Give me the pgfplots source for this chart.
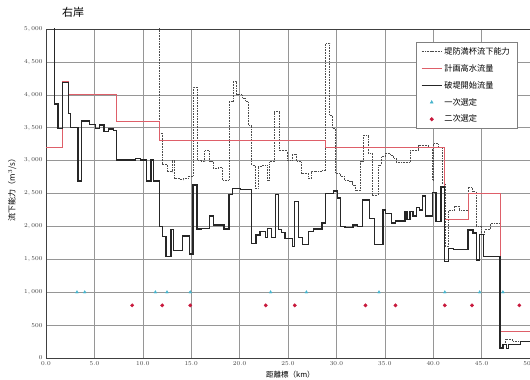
\documentclass[border=0pt]{standalone}
\usepackage{fontspec}
\usepackage{pgfplots}
\pgfplotsset{compat=1.18}
\usetikzlibrary{calc}
\newfontfamily\cjk{Noto Sans CJK JP}
\definecolor{redline}{RGB}{222,95,105}
\definecolor{tri}{RGB}{70,180,205}
\definecolor{dotc}{RGB}{200,25,60}
\definecolor{gridc}{RGB}{150,150,150}
\begin{document}
\begin{tikzpicture}
\begin{axis}[
 scale only axis, width=484pt, height=329pt,
 xmin=0, xmax=50, ymin=0, ymax=5000,
 xtick={0,5,...,50}, ytick={0,500,...,5000},
 grid=major, major grid style={gridc, line width=0.5pt},
 axis line style={black!75, line width=0.8pt},
 tick style={draw=none},
 ticklabel style={font=\fontsize{6}{7}\selectfont, text=black!75},
 yticklabel style={/pgf/number format/1000 sep={,}},
 xticklabel style={/pgf/number format/.cd, fixed, fixed zerofill, precision=1},
 title={\cjk\fontsize{11}{12}\selectfont 右岸},
 title style={at={(axis description cs:0.056,1.005)}, anchor=south},
 ylabel={\cjk\fontsize{8}{9}\selectfont 流下能力（m$^3$/s）},
 ylabel style={at={(axis description cs:-0.070,0.517)}, anchor=center},
 xlabel={\cjk\fontsize{7.5}{8}\selectfont 距離標（km）},
 xlabel style={at={(axis description cs:0.505,-0.038)}, anchor=north, inner sep=0pt},
 legend style={at={(rel axis cs:0.764,0.96)}, anchor=north west,
   font=\cjk\fontsize{8.2}{9}\selectfont, draw=gray, line width=0.6pt,
   row sep=4.5pt, inner xsep=5pt, inner ysep=3pt, fill=white},
 legend cell align=left,
 legend image code/.code={\draw[mark repeat=2,mark phase=2,#1] plot coordinates {(0cm,0cm) (0.35cm,0cm) (0.7cm,0cm)};},
]
\addplot[const plot, black!70, densely dotted, line width=0.6pt] coordinates {
(0,5400) (11.75,3420) (12.0,2950) (12.5,2830) (13.0,3010) (13.3,2730) (13.8,2710) (14.2,2730) (14.7,2760) (15.2,4120) (15.6,3010) (16.0,2990) (16.4,3150) (16.9,2990) (17.3,2880) (17.8,2900) (18.2,2705) (18.9,3900) (19.3,4200) (19.7,4000) (20.3,3950) (20.6,3900) (20.9,3540) (21.25,2935) (21.6,2580) (21.9,2920) (22.3,2935) (22.9,2705) (23.1,2985) (23.6,3745) (24.1,3150) (24.9,3010) (25.4,3100) (25.9,2985) (26.4,2805) (27.1,2730) (27.4,2830) (27.9,2840) (28.5,2850) (28.9,4780) (29.3,3690) (29.6,3490) (29.9,2805) (30.4,2760) (30.8,2705) (31.3,2680) (31.6,2630) (32.0,2550) (32.5,2985) (32.8,3390) (33.3,3110) (33.7,2480) (34.3,2935) (34.6,3060) (35.0,3110) (35.6,3080) (35.9,3040) (36.2,2970) (37.6,3150) (38.5,3240) (39.5,3200) (39.9,2700) (40.0,3260) (40.5,3200) (40.9,2650) (41.2,1700) (41.6,2250) (42.2,2310) (42.7,2240) (43.6,2600) (44.0,2530) (44.4,2000) (45.0,1880) (45.3,1950) (45.9,2050) (46.9,200) (47.4,290) (48.2,260) (49.0,250) (50,250)
};
\addlegendentry{堤防満杯流下能力}
\addplot[const plot, redline, line width=0.8pt] coordinates {
(0,3200) (1.72,4200) (2.3,4000) (7.3,3600) (11.7,3300) (28.9,3200) (41.2,2100) (43.6,2500) (46.9,400) (50,400)
};
\addlegendentry{計画高水流量}
\addplot[const plot, black!85, line width=1.3pt] coordinates {
(0.6,5400) (0.9,3860) (1.24,3490) (1.72,4190) (2.3,3720) (2.5,3500) (3.3,2690) (3.7,3600) (4.5,3550) (5.1,3490) (5.5,3540) (6.0,3440) (6.44,3480) (7.0,3460) (7.27,3010) (9.26,3030) (9.78,3010) (10.4,2690) (10.85,3010) (11.1,2690) (11.7,2000) (12.05,1845) (12.4,1540) (12.9,1955) (13.2,1630) (14.1,1855) (14.8,1580) (15.2,2630) (15.6,1960) (16.0,1970) (16.9,2160) (17.3,2020) (18.4,1960) (18.9,2490) (19.3,2580) (20.1,2560) (21.25,1745) (21.7,1870) (22.1,1920) (22.7,1830) (22.9,1970) (23.3,1830) (23.7,2480) (24.0,1950) (24.3,1910) (24.7,1820) (25.5,1690) (25.7,2375) (26.1,1830) (26.5,1720) (27.1,1920) (27.6,1960) (28.5,2050) (28.9,2500) (29.7,2540) (30.1,2430) (30.4,2000) (30.9,1980) (31.7,2020) (32.2,2000) (32.7,2400) (33.4,2120) (33.9,1720) (34.8,2250) (35.1,2200) (35.7,2050) (36.1,2080) (37.1,2225) (37.3,2100) (37.6,2225) (37.9,2160) (38.3,2290) (38.6,2250) (38.9,2460) (39.2,2160) (39.9,2510) (40.3,2070) (40.8,2600) (41.2,1465) (41.6,1665) (42.1,1650) (43.6,1945) (44.1,1900) (44.5,1490) (44.8,1880) (45.2,1540) (46.9,150) (47.2,210) (47.6,140) (47.8,200) (49.0,250) (50,250)
};
\addlegendentry{破堤開始流量}
\addplot[only marks, mark=triangle*, mark size=1.6pt, color=tri] coordinates {
(3.2,1000) (4.0,1000) (11.3,1000) (12.5,1000) (14.9,1000) (23.2,1000) (26.9,1000) (34.4,1000) (41.2,1000) (44.8,1000) (47.2,1000)
};
\addlegendentry{一次選定}
\addplot[only marks, mark=*, mark size=1.7pt, color=dotc] coordinates {
(8.9,800) (12.0,800) (14.9,800) (22.7,800) (25.7,800) (33.0,800) (36.1,800) (41.2,800) (44.0,800) (48.9,800)
};
\addlegendentry{二次選定}
\end{axis}
\pgfresetboundingbox
\useasboundingbox ($(current axis.south west)+(-46pt,-21pt)$) rectangle ($(current axis.north east)+(0pt,29pt)$);
\end{tikzpicture}
\end{document}
